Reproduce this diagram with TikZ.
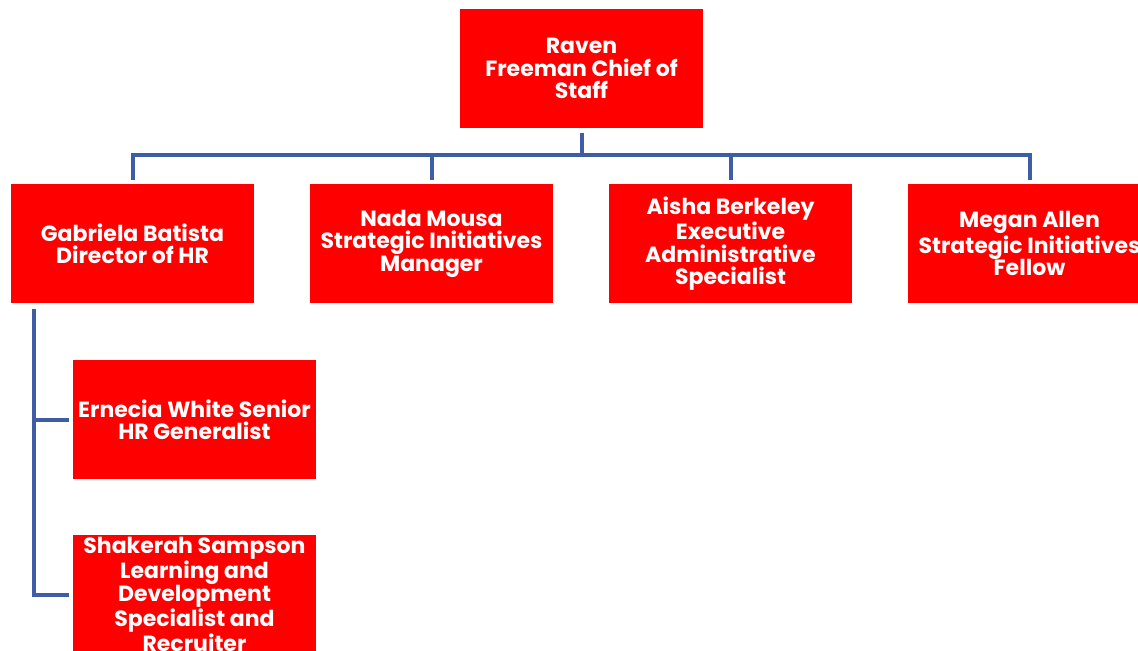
\documentclass[tikz,border=0pt]{standalone}
\usepackage{fontspec}
\setmainfont{Poppins}
\usetikzlibrary{positioning,calc}
\definecolor{boxred}{RGB}{255,0,0}
\definecolor{linkblue}{RGB}{61,94,166}

\begin{document}
\begin{tikzpicture}[x=0.5pt,y=-0.5pt,
  person/.style={rectangle,fill=boxred,text=white,minimum width=121.5pt,minimum height=59.5pt,
    inner sep=0pt,align=center,font=\fontsize{11}{11.2}\selectfont\bfseries},
  link/.style={draw=linkblue,line width=2pt}]
\clip (0,0) rectangle (1138,651);
\useasboundingbox (0,0) rectangle (1138,651);
\node[person] (chief) at (581.5,68.5) {Raven\\Freeman Chief of\\Staff};
\node[person] (gabriela) at (132.5,243.5) {Gabriela Batista\\Director of HR};
\node[person] (nada) at (431.5,243.5) {Nada Mousa\\Strategic Initiatives\\Manager};
\node[person] (aisha) at (730.5,243.5) {Aisha Berkeley\\Executive\\Administrative\\Specialist};
\node[person] (megan) at (1029.5,243.5) {Megan Allen\\Strategic Initiatives\\Fellow};
\node[person] (ernecia) at (194.5,419.5) {Ernecia White Senior\\HR Generalist};
\node[person] (shakerah) at (194.5,594.5) {Shakerah Sampson\\Learning and\\Development\\Specialist and\\Recruiter};
\coordinate (bus) at (581.5,155);
\coordinate (trunk) at (34,309);
% top level
\draw[link,shorten <=2.5pt] (chief.south) -- (chief |- bus);
\draw[link,line cap=rect] (gabriela |- bus) -- (megan |- bus);
\foreach \n in {gabriela,nada,aisha,megan}
  \draw[link,shorten >=2pt] (\n |- bus) -- (\n.north);
% HR branch
\draw[link] (trunk) -- (trunk |- shakerah.west) -- ($(shakerah.west)+(-4,0)$);
\draw[link] (trunk |- ernecia.west) -- ($(ernecia.west)+(-4,0)$);
\end{tikzpicture}
\end{document}
